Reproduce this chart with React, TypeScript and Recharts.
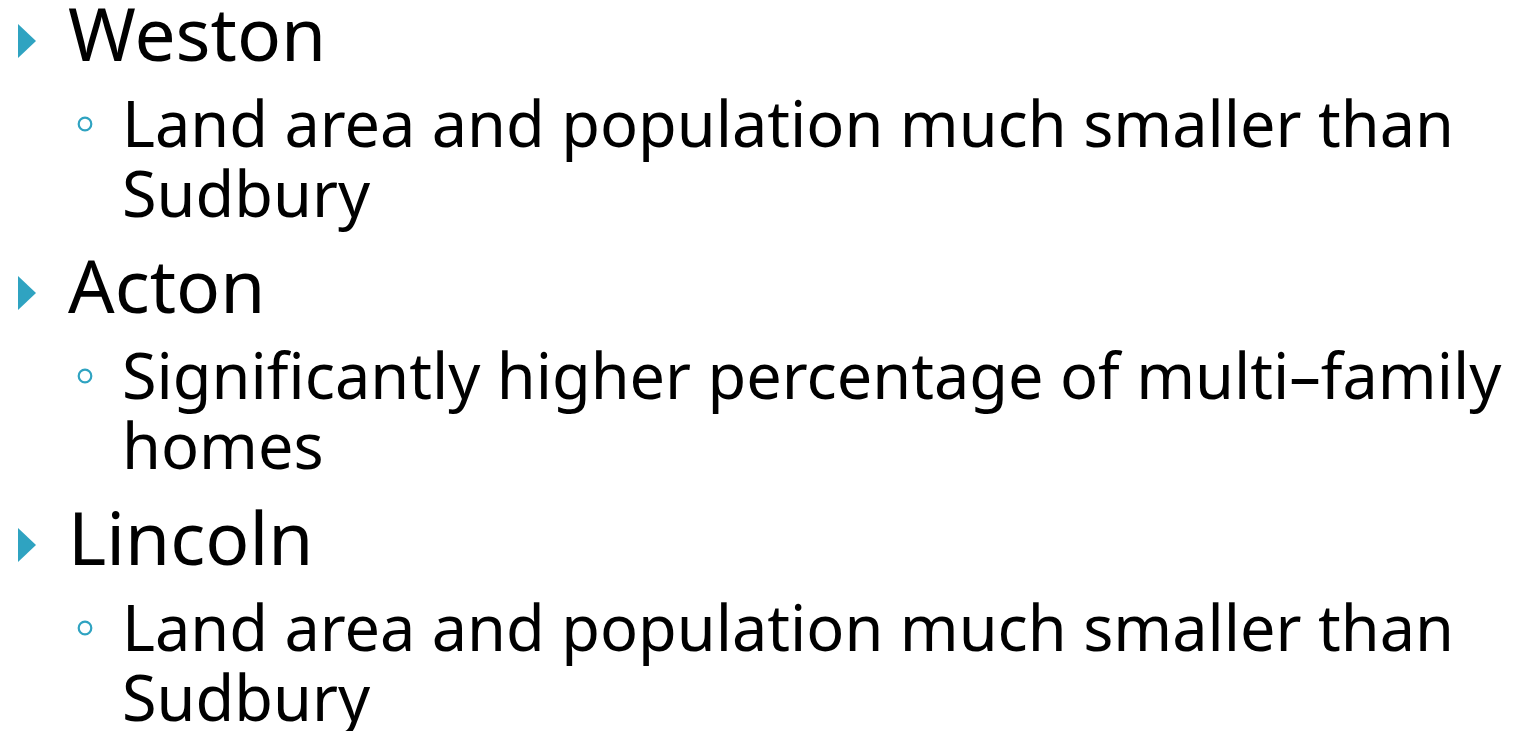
import { Surface, Layer, Text, Polygon } from "recharts";

const towns = ["Weston", "Acton", "Lincoln"];
const noteLines = [
  ["Land area and population much smaller than", "Sudbury"],
  ["Significantly higher percentage of multi–family", "homes"],
  ["Land area and population much smaller than", "Sudbury"],
];

const ACCENT = "#2fa3c1";
const FONT = "'Noto Sans', 'Open Sans', sans-serif";

export default function App() {
  const W = 1521;
  const H = 731;
  return (
    <div style={{ position: "absolute", left: 0, top: 0, width: W, height: H, background: "#fff" }}>
      <Surface width={W} height={H} viewBox={{ x: 0, y: 0, width: W, height: H }}>
        {towns.map((town, i) => {
          const base = 61 + i * 252;
          const subBase = base + 86;
          return (
            <Layer key={town}>
              <Polygon
                points={[
                  { x: 18, y: base - 37 },
                  { x: 36, y: base - 20 },
                  { x: 18, y: base - 3 },
                ]}
                fill={ACCENT}
                stroke="none"
              />
              <Text x={68} y={base} fontSize={73} fontFamily={FONT} fill="#000">
                {town}
              </Text>
              <circle cx={85} cy={subBase - 23} r={6.3} fill="none" stroke={ACCENT} strokeWidth={2.2} />
              {noteLines[i].map((line, j) => (
                <Text key={j} x={122} y={subBase + j * 70} fontSize={63} fontFamily={FONT} fill="#000">
                  {line}
                </Text>
              ))}
            </Layer>
          );
        })}
      </Surface>
    </div>
  );
}
